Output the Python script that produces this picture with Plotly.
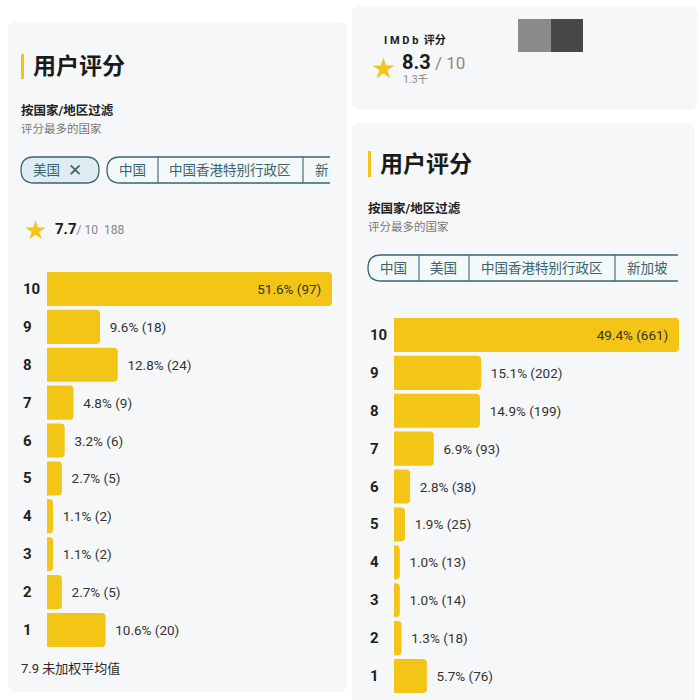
import plotly.graph_objects as go

# ---------------- data ----------------
ratings = [10, 9, 8, 7, 6, 5, 4, 3, 2, 1]
left_pct = [51.6, 9.6, 12.8, 4.8, 3.2, 2.7, 1.1, 1.1, 2.7, 10.6]
left_cnt = [97, 18, 24, 9, 6, 5, 2, 2, 5, 20]
right_pct = [49.4, 15.1, 14.9, 6.9, 2.8, 1.9, 1.0, 1.0, 1.3, 5.7]
right_cnt = [661, 202, 199, 93, 38, 25, 13, 14, 18, 76]

left_chips = ["中国", "中国香港特别行政区", "新"]
right_chips = ["中国", "美国", "中国香港特别行政区", "新加坡"]

W = H = 700
FONT = "Roboto, 'Noto Sans CJK SC', sans-serif"
YEL = "#f3c517"
TEAL = "#3a646d"
PANEL = "#f6f7f8"


def px(x):
    return x / W


def py(y):
    return 1 - y / H


def rrect(x0, y0, x1, y1, r):
    X0, X1 = px(x0), px(x1)
    Y0, Y1 = py(y0), py(y1)
    rx, ry = r / W, r / H
    return (f"M{X0+rx},{Y0} L{X1-rx},{Y0} Q{X1},{Y0} {X1},{Y0-ry} "
            f"L{X1},{Y1+ry} Q{X1},{Y1} {X1-rx},{Y1} L{X0+rx},{Y1} "
            f"Q{X0},{Y1} {X0},{Y1+ry} L{X0},{Y0-ry} Q{X0},{Y0} {X0+rx},{Y0} Z")


def open_pill(x0, y0, x1, y1):
    r = (y1 - y0) / 2
    X0, X1 = px(x0), px(x1)
    Y0, Y1 = py(y0), py(y1)
    rx, ry = r / W, r / H
    return (f"M{X1},{Y0} L{X0+rx},{Y0} Q{X0},{Y0} {X0},{Y0-ry} "
            f"Q{X0},{Y1} {X0+rx},{Y1} L{X1},{Y1}")


fig = go.Figure()

NB = "\u00a0"


def labels(pcts, cnts):
    mx = max(pcts)
    txt, pos = [], []
    for p, c in zip(pcts, cnts):
        if p == mx:
            txt.append(f"{p:.1f}% ({c}){NB*2}")
            pos.append("inside")
        else:
            txt.append(f"{NB}{NB}{p:.1f}% ({c})")
            pos.append("outside")
    return txt, pos


lt, lp = labels(left_pct, left_cnt)
rt, rp = labels(right_pct, right_cnt)

for xs, txt, pos, xa, ya in [(left_pct, lt, lp, "x", "y"), (right_pct, rt, rp, "x2", "y2")]:
    fig.add_trace(go.Bar(
        y=ratings, x=xs, orientation="h", width=0.9,
        marker=dict(color=YEL, cornerradius=4, line=dict(width=0)),
        text=txt, textposition=pos, insidetextanchor="end",
        textfont=dict(family=FONT, size=13.5, color="#333333"),
        outsidetextfont=dict(family=FONT, size=13.5, color="#333333"),
        insidetextfont=dict(family=FONT, size=13.5, color="#333333"),
        cliponaxis=False, hoverinfo="skip", xaxis=xa, yaxis=ya))

axis_off = dict(showgrid=False, zeroline=False, showticklabels=False,
                showline=False, ticks="", fixedrange=True)

fig.update_layout(
    width=W, height=H,
    margin=dict(l=0, r=0, t=0, b=0),
    paper_bgcolor="#ffffff", plot_bgcolor="rgba(0,0,0,0)",
    showlegend=False,
    font=dict(family=FONT, color="#222222"),
    xaxis=dict(domain=[px(47), px(332)], range=[0, max(left_pct)], anchor="y", **axis_off),
    yaxis=dict(domain=[py(649), py(270)], range=[0.5, 10.5], anchor="x", **axis_off),
    xaxis2=dict(domain=[px(394), px(679)], range=[0, max(right_pct)], anchor="y2", **axis_off),
    yaxis2=dict(domain=[py(695), py(316)], range=[0.5, 10.5], anchor="x2", **axis_off),
)

shapes = []
# panels
shapes.append(dict(type="path", path=rrect(8, 22, 347, 692, 8), xref="paper", yref="paper",
                   fillcolor=PANEL, line=dict(width=0), layer="below"))
shapes.append(dict(type="path", path=rrect(352, 6, 697, 110, 8), xref="paper", yref="paper",
                   fillcolor=PANEL, line=dict(width=0), layer="below"))
shapes.append(dict(type="path", path=rrect(352, 123, 695, 706, 8), xref="paper", yref="paper",
                   fillcolor=PANEL, line=dict(width=0), layer="below"))
# yellow title bars
for (x, y0, y1) in [(21, 54, 79), (368, 151, 177)]:
    shapes.append(dict(type="rect", xref="paper", yref="paper", x0=px(x), x1=px(x + 3),
                       y0=py(y1), y1=py(y0), fillcolor=YEL, line=dict(width=0), layer="below"))
# blurred gray squares
shapes.append(dict(type="rect", xref="paper", yref="paper", x0=px(518), x1=px(551),
                   y0=py(52), y1=py(19), fillcolor="#8a8a8a", line=dict(width=0), layer="below"))
shapes.append(dict(type="rect", xref="paper", yref="paper", x0=px(551), x1=px(583),
                   y0=py(52), y1=py(19), fillcolor="#484848", line=dict(width=0), layer="below"))
# left selected chip
shapes.append(dict(type="path", path=rrect(21, 157, 99, 183, 13), xref="paper", yref="paper",
                   fillcolor="#deedf2", line=dict(color=TEAL, width=1.3), layer="below"))
# left chip group
shapes.append(dict(type="path", path=open_pill(107, 157, 330, 183), xref="paper", yref="paper",
                   fillcolor="#f3f8f9", line=dict(color=TEAL, width=1.3), layer="below"))
for x in [158, 303]:
    shapes.append(dict(type="line", xref="paper", yref="paper", x0=px(x), x1=px(x),
                       y0=py(183), y1=py(157), line=dict(color=TEAL, width=1.1), layer="below"))
# right chip group
shapes.append(dict(type="path", path=open_pill(368, 255, 678, 281), xref="paper", yref="paper",
                   fillcolor="#f3f8f9", line=dict(color=TEAL, width=1.3), layer="below"))
for x in [419, 469, 615]:
    shapes.append(dict(type="line", xref="paper", yref="paper", x0=px(x), x1=px(x),
                       y0=py(281), y1=py(255), line=dict(color=TEAL, width=1.1), layer="below"))

ann = []


def T(x, y, text, size, color="#222222", bold=False, anchor="left", family=FONT):
    if bold:
        text = f"<b>{text}</b>"
    ann.append(dict(x=px(x), y=py(y), xref="paper", yref="paper", text=text, showarrow=False,
                    xanchor=anchor, yanchor="middle",
                    font=dict(family=family, size=size, color=color)))


# left panel texts
T(31, 66, "用户评分", 23, "#1a1a1a", bold=True)
T(19, 110, "按国家/地区过滤", 12.5, "#222222", bold=True)
T(19, 129, "评分最多的国家", 11.5, "#777777")
T(46, 170, "美国", 13.5, TEAL, anchor="center")
T(75, 170, "✕", 17, TEAL, anchor="center", family="DejaVu Sans")
T(132, 170, left_chips[0], 13.5, TEAL, anchor="center")
T(230, 170, left_chips[1], 13.5, TEAL, anchor="center")
T(313, 170, left_chips[2], 13.5, TEAL)
T(35, 230, "★", 26, YEL, anchor="center", family="DejaVu Sans")
T(53, 229, "<b>7.7</b><span style='color:#888888;font-size:12px'>/ 10  188</span>", 15, "#1a1a1a")
T(19, 668, "7.9 未加权平均值", 13, "#2a2a2a")

# right top panel
T(382, 40, "I M D b  评分", 11, "#1a1a1a", bold=True)
T(383, 69, "★", 28, YEL, anchor="center", family="DejaVu Sans")
T(400, 62, "<b>8.3</b><span style='color:#888888;font-size:17px'> / 10</span>", 20, "#1a1a1a")
T(401, 79, "1.3千", 10.5, "#888888")

# right bottom panel
T(378, 164, "用户评分", 23, "#1a1a1a", bold=True)
T(366, 208, "按国家/地区过滤", 12.5, "#222222", bold=True)
T(366, 227, "评分最多的国家", 11.5, "#777777")
for cx, lab in zip([393, 444, 542, 647], right_chips):
    T(cx, 268, lab, 13.5, TEAL, anchor="center")

# rating labels (left-aligned)
for r in ratings:
    ann.append(dict(x=px(21), y=r, xref="paper", yref="y", text=f"<b>{r}</b>", showarrow=False,
                    xanchor="left", yanchor="middle",
                    font=dict(family=FONT, size=15, color="#1f1f1f")))
    ann.append(dict(x=px(368), y=r, xref="paper", yref="y2", text=f"<b>{r}</b>", showarrow=False,
                    xanchor="left", yanchor="middle",
                    font=dict(family=FONT, size=15, color="#1f1f1f")))

fig.update_layout(shapes=shapes, annotations=ann)
fig.write_html("out.html", config={"displayModeBar": False},
               post_script="document.body.style.margin='0';")
